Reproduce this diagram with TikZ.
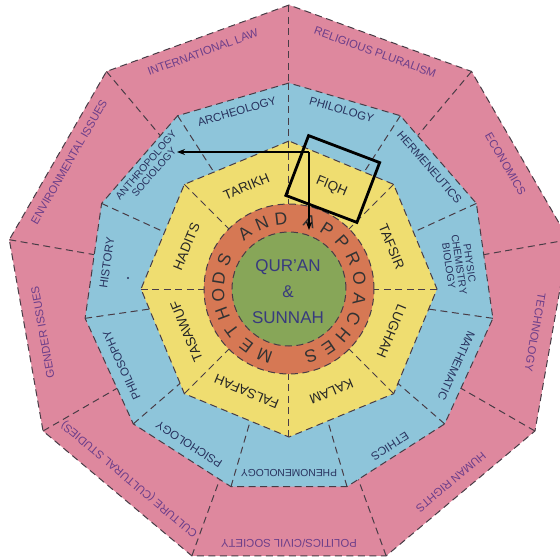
\documentclass[tikz,border=0pt]{standalone}
\usepackage{fontspec}
\setmainfont{Liberation Sans}
\usetikzlibrary{arrows.meta}

\definecolor{ringpink}{RGB}{222,136,158}
\definecolor{ringblue}{RGB}{142,197,218}
\definecolor{ringyellow}{RGB}{239,221,112}
\definecolor{ringorange}{RGB}{214,120,84}
\definecolor{coregreen}{RGB}{135,166,88}
\definecolor{pinkink}{RGB}{108,62,138}
\definecolor{blueink}{RGB}{40,50,94}
\definecolor{coreink}{RGB}{56,58,126}
\definecolor{rimgray}{RGB}{72,60,70}

\begin{document}
\begin{tikzpicture}[
    x=1pt, y=1pt,
    rim/.style={draw=rimgray, line width=1pt, dash pattern=on 7pt off 4.5pt},
    divider/.style={rim},
    pinklabel/.style={text=pinkink, font=\fontsize{11.3}{12}\selectfont, inner sep=0pt},
    bluelabel/.style={text=blueink, font=\fontsize{11.5}{12}\selectfont, inner sep=0pt, align=center},
    smallblue/.style={bluelabel, font=\fontsize{10.3}{10.5}\selectfont},
    yellowlabel/.style={text=black!85, font=\fontsize{13.5}{14}\selectfont, inner sep=0pt},
    ringletter/.style={text=black!80, font=\fontsize{17.5}{18}\selectfont, inner sep=0pt},
    corelabel/.style={text=coreink, font=\fontsize{17}{26}\selectfont, inner sep=0pt, align=center},
    arrow/.style={-{Stealth[length=8pt, width=6pt]}, line width=1.3pt},
    focus/.style={draw, line width=2.8pt, minimum width=76pt, minimum height=64pt}
]
    \useasboundingbox (-289,-269) rectangle (271,289);
    \fill[white] (-289,-269) rectangle (271,289);
    \clip (-289,-269) rectangle (271,289);

    % Outer ring: nine sectors
    \filldraw[fill=ringpink, rim] (90:284) \foreach \k in {1,...,8} {-- ({90+40*\k}:284)} -- cycle;
    \foreach \k in {0,...,8} \draw[divider] ({90+40*\k}:284) -- (0,0);

    % Second ring: eleven sectors
    \filldraw[fill=ringblue, rim] (90:206) \foreach \k in {1,...,10} {-- ({90+360/11*\k}:206)} -- cycle;
    \foreach \k in {0,...,10} \draw[divider] ({90+360/11*\k}:206) -- (0,0);

    % Third ring: eight sectors
    \filldraw[fill=ringyellow, rim] (90:148) \foreach \k in {1,...,7} {-- ({90+45*\k}:148)} -- cycle;
    \foreach \k in {0,...,7} \draw[divider] ({90+45*\k}:148) -- (0,0);

    % Core circles
    \filldraw[fill=ringorange, rim] (0,0) circle (85);
    \filldraw[fill=coregreen, rim] (0,0) circle (57);

    % Outer ring labels
    \node[pinklabel, rotate=20] (intlaw) at (110:252) {INTERNATIONAL LAW};
    \node[pinklabel, rotate=-20] (pluralism) at (70:252) {RELIGIOUS PLURALISM};
    \node[pinklabel, rotate=-60] (economics) at (30:250) {ECONOMICS};
    \node[pinklabel, rotate=-100] (technology) at (-10:250) {TECHNOLOGY};
    \node[pinklabel, rotate=-140] (humanrights) at (-50:252) {HUMAN RIGHTS};
    \node[pinklabel, rotate=180] (politics) at (-90:255) {POLITICS/CIVIL SOCIETY};
    \node[pinklabel, rotate=140] (culture) at (-130:248) {CULTURE (CULTURAL STUDIES)};
    \node[pinklabel, rotate=100] (gender) at (190:250) {GENDER ISSUES};
    \node[pinklabel, rotate=60] (environment) at (150:254) {ENVIRONMENTAL ISSUES};

    % Second ring labels
    \node[bluelabel, rotate=16.36] (archeology) at (106.36:185) {ARCHEOLOGY};
    \node[bluelabel, rotate=-16.36] (philology) at (73.64:187) {PHILOLOGY};
    \node[bluelabel, rotate=-49.09] (hermeneutics) at (40.91:186) {HERMENEUTICS};
    \node[smallblue, rotate=-81.82] (sciences) at (8.18:172) {PHYSIC\\CHEMISTRY\\BIOLOGY};
    \node[bluelabel, rotate=-114.55] (mathematic) at (-24.55:184) {MATHEMATIC};
    \node[bluelabel, rotate=-147.27] (ethics) at (-57.27:187) {ETHICS};
    \node[smallblue, rotate=180] (phenomenology) at (-90:184) {PHENOMENOLOGY};
    \node[bluelabel, rotate=147.27] (psichology) at (-122.73:185) {PSICHOLOGY};
    \node[bluelabel, rotate=114.55] (philosophy) at (-155.45:184) {PHILOSOPHY};
    \node[bluelabel, rotate=81.82] (history) at (171.82:184) {HISTORY};
    \node[smallblue, rotate=49.09] (anthropology) at (139.09:184) {ANTHROPOLOGY\\SOCIOLOGY};
    \fill[blueink] (-161,11) circle (1.2);

    % Third ring labels
    \node[yellowlabel, rotate=22.5] (tarikh) at (112.5:111) {TARIKH};
    \node[yellowlabel, rotate=-22.5] (fiqh) at (67.5:111) {FIQH};
    \node[yellowlabel, rotate=-67.5] (tafsir) at (22.5:111) {TAFSIR};
    \node[yellowlabel, rotate=-112.5] (lughah) at (-22.5:111) {LUGHAH};
    \node[yellowlabel, rotate=-157.5] (kalam) at (-67.5:111) {KALAM};
    \node[yellowlabel, rotate=157.5] (falsafah) at (-112.5:111) {FALSAFAH};
    \node[yellowlabel, rotate=112.5] (tasawuf) at (-157.5:111) {TASAWUF};
    \node[yellowlabel, rotate=67.5] (hadits) at (157.5:111) {HADITS};

    % Circular text round the core
    \foreach \ang/\ch [count=\i] in {-110/M, -127/E, -143.5/T, -159.5/H, -175/O, 171/D, 155.7/S,
                                     128.5/A, 112.5/N, 96.5/D,
                                     73/A, 57.5/P, 41.5/P, 25/R, 8.5/O, -8/A, -24.5/C, -40.5/H, -56/E, -72/S}
        \node[ringletter, rotate=\ang-90] (letter\i) at (\ang:71) {\ch};

    \node[corelabel] (core) at (-1,-2.5) {QUR'AN\\\&\\SUNNAH};

    % Highlight box and pointers
    \node[focus, rotate=-20.8] (fiqhbox) at (43.75,110) {};
    \coordinate (bend) at (20,137);
    \coordinate (sociotip) at (-112,137);
    \coordinate (ringtip) at (20,59);
    \draw[arrow] (bend) -- (sociotip);
    \draw[arrow] (bend) -- (ringtip);
\end{tikzpicture}
\end{document}
